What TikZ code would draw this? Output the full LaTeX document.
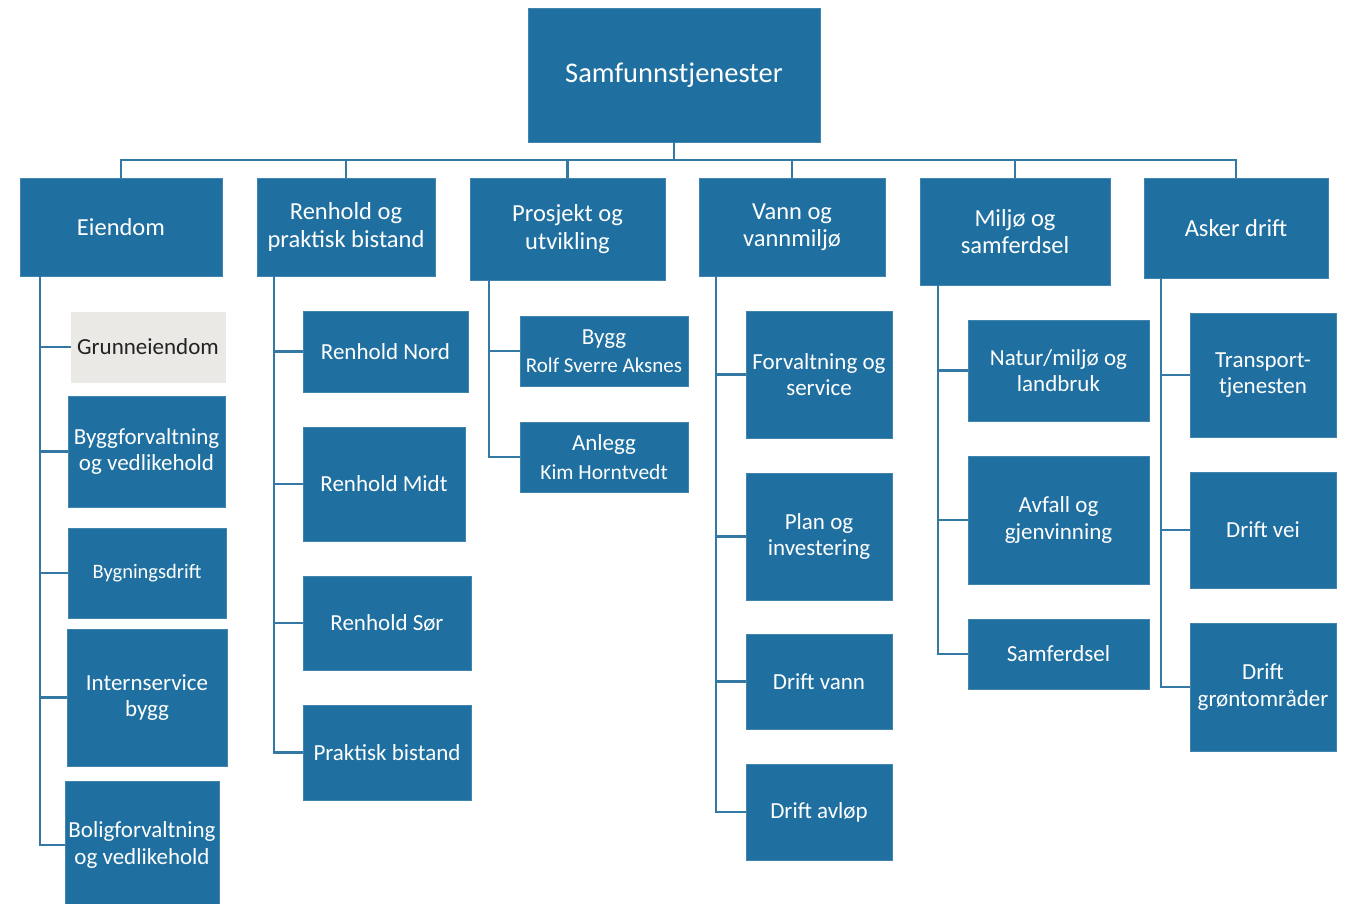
\documentclass[tikz,border=0pt]{standalone}
\usepackage{fontspec}
\setmainfont{Carlito}
\definecolor{boxblue}{RGB}{31,112,160}
\definecolor{lineblue}{RGB}{52,120,165}
\definecolor{greybox}{RGB}{234,233,229}
\definecolor{darktext}{RGB}{34,34,34}
\newcommand\bx[7][]{\node[box,#1, minimum width={#5-#3}, minimum height={#6-#4}] (#2) at ({(#3+#5)/2},{(#4+#6)/2}) {#7};}
\begin{document}
\begin{tikzpicture}[x=1pt,y=-1pt,
  box/.style={rectangle, fill=boxblue, draw=boxblue!85!white, line width=0.8pt, text=white, inner sep=0pt, outer sep=0pt, align=center, font=\fontsize{23}{26.5}\selectfont},
  lvl/.style={font=\fontsize{24.5}{27.5}\selectfont},
  top/.style={font=\fontsize{28.5}{32}\selectfont},
  grey/.style={fill=greybox, draw=greybox, text=darktext},
  sub/.style={font=\fontsize{23}{26.5}\selectfont},
  conn/.style={draw=lineblue, line width=2.4pt}]
\useasboundingbox (0,0) rectangle (1348,903);
\begin{scope}
\clip (0,0) rectangle (1348,903);
% top
\bx[top]{top}{528}{8}{820}{142}{Samfunnstjenester}
% level 1
\bx[lvl]{eien}{20}{178}{222}{276}{Eiendom}
\bx[lvl]{renh}{257}{178}{435}{276}{Renhold og\\praktisk bistand}
\bx[lvl]{pros}{470}{178}{665}{280}{Prosjekt og\\utvikling}
\bx[lvl]{vann}{699}{178}{885}{276}{Vann og\\vannmiljø}
\bx[lvl]{milj}{920}{178}{1110}{285}{Miljø og\\samferdsel}
\bx[lvl]{aske}{1144}{178}{1328}{278}{Asker drift}
% Eiendom children
\bx[grey]{grun}{71}{312}{225}{382}{Grunneiendom}
\bx{bygf}{68}{396}{225}{507}{Byggforvaltning\\og vedlikehold}
\bx[font=\fontsize{20.5}{24}\selectfont]{bygd}{68}{528}{226}{618}{Bygningsdrift}
\bx{ints}{67}{629}{227}{766}{Internservice\\bygg}
\bx{bolf}{65}{781}{219}{909}{Boligforvaltning\\og vedlikehold}
% Renhold children
\bx{rnor}{303}{311}{468}{392}{Renhold Nord}
\bx{rmid}{303}{427}{465}{541}{Renhold Midt}
\bx{rsor}{303}{576}{471}{670}{Renhold Sør}
\bx{prak}{303}{705}{471}{800}{Praktisk bistand}
% Prosjekt children
\bx{bygg}{520}{316}{688}{386}{Bygg\\[2pt]{\fontsize{21}{23}\selectfont Rolf Sverre Aksnes}}
\bx{anle}{520}{422}{688}{492}{Anlegg\\[2pt]{\fontsize{21.5}{23}\selectfont Kim Horntvedt}}
% Vann children
\bx{forv}{746}{311}{892}{438}{Forvaltning og\\service}
\bx{plan}{746}{473}{892}{600}{Plan og\\investering}
\bx{dvan}{746}{634}{892}{729}{Drift vann}
\bx{davl}{746}{764}{892}{860}{Drift avløp}
% Miljo children
\bx{natu}{968}{320}{1149}{421}{Natur/miljø og\\landbruk}
\bx{avfa}{968}{456}{1149}{584}{Avfall og\\gjenvinning}
\bx{samf}{968}{619}{1149}{689}{Samferdsel}
% Asker children
\bx{tran}{1190}{313}{1336}{437}{Transport-\\tjenesten}
\bx{dvei}{1190}{472}{1336}{588}{Drift vei}
\bx{dgro}{1190}{623}{1336}{751}{Drift\\grøntområder}
% connectors from top
\foreach \n in {eien,renh,pros,vann,milj,aske}
  \draw[conn] (top.south) -- ++(0,18) -| (\n.north);
% branch coordinates
\path (eien.south west) ++(20,0) coordinate (e0);
\path (renh.south west) ++(17,0) coordinate (r0);
\path (pros.south west) ++(19,0) coordinate (p0);
\path (vann.south west) ++(17,0) coordinate (v0);
\path (milj.south west) ++(18,0) coordinate (m0);
\path (aske.south west) ++(17,0) coordinate (a0);
\foreach \n in {grun,bygf,bygd,ints,bolf} \draw[conn] (e0) |- (\n.west);
\foreach \n in {rnor,rmid,rsor,prak} \draw[conn] (r0) |- (\n.west);
\foreach \n in {bygg,anle} \draw[conn] (p0) |- (\n.west);
\foreach \n in {forv,plan,dvan,davl} \draw[conn] (v0) |- (\n.west);
\foreach \n in {natu,avfa,samf} \draw[conn] (m0) |- (\n.west);
\foreach \n in {tran,dvei,dgro} \draw[conn] (a0) |- (\n.west);
\end{scope}
\end{tikzpicture}
\end{document}
